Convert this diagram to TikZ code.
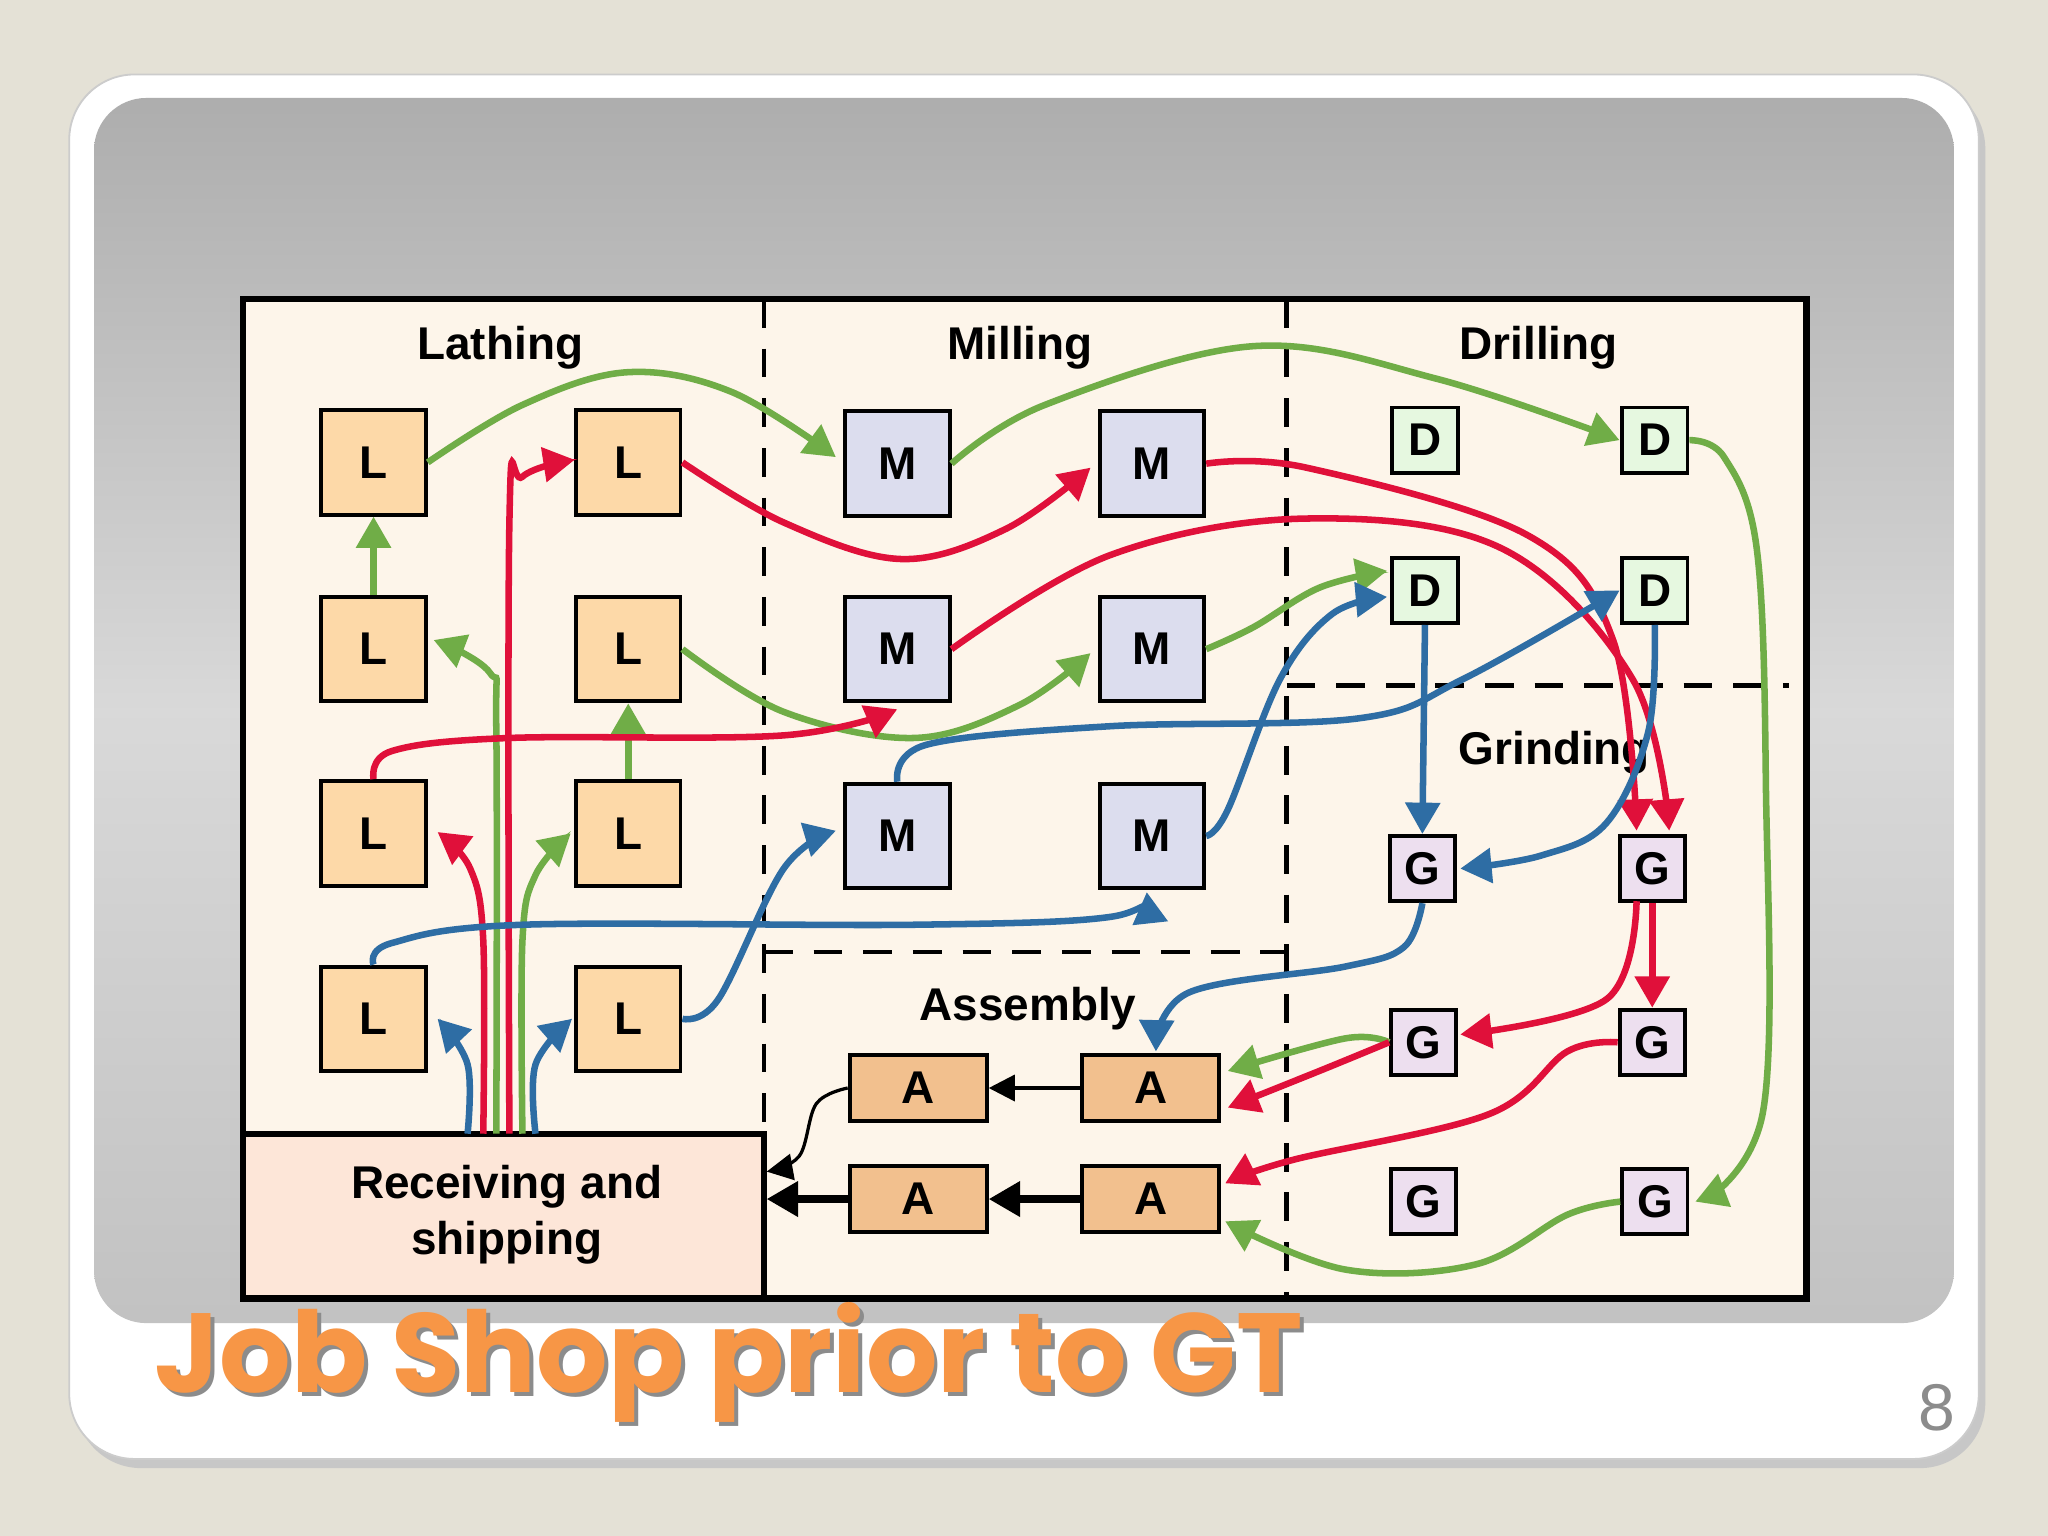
\documentclass[tikz,border=0pt]{standalone}
\usepackage{fontspec}
\setmainfont{Liberation Sans}
\newfontfamily\titlefont{Poppins}
\usetikzlibrary{arrows.meta}
\definecolor{gr}{HTML}{70AD47}
\definecolor{rd}{HTML}{E0103A}
\definecolor{bl}{HTML}{2E6DA4}
\tikzset{
 mach/.style={draw=black,line width=0.3mm,minimum width=8mm,minimum height=8mm,font=\bfseries\normalsize,inner sep=0},
 Lb/.style={mach,fill={rgb,255:red,253;green,217;blue,168}},
 Mb/.style={mach,fill={rgb,255:red,220;green,221;blue,238}},
 Db/.style={mach,minimum width=5mm,minimum height=5mm,fill={rgb,255:red,230;green,248;blue,224}},
 Gb/.style={mach,minimum width=5mm,minimum height=5mm,fill={rgb,255:red,237;green,223;blue,239}},
 Ab/.style={mach,minimum width=10.5mm,minimum height=5mm,fill={rgb,255:red,242;green,192;blue,142}},
 fl/.style={line width=0.5mm,-{Triangle[length=2.4mm,width=2.6mm]}},
 G/.style={fl,draw=gr,color=gr},
 R/.style={fl,draw=rd,color=rd},
 B/.style={fl,draw=bl,color=bl},
 dsh/.style={line width=0.35mm,dash pattern=on 2.2mm off 1.6mm},
 lab/.style={font=\bfseries\normalsize}
}
\begin{document}
\begin{tikzpicture}[x=0.1mm,y=-0.1mm]
\fill[fill={rgb,255:red,228;green,225;blue,214}] (0,0) rectangle (1568,1176);
\fill[black!22,rounded corners=5mm] (58,64) rectangle (1520,1124);
\fill[white,draw=black!20,rounded corners=5mm] (53,57) rectangle (1515,1117);
\shade[top color=black!32,bottom color=black!24,middle color=black!15,rounded corners=4mm] (72,75) rectangle (1496,1013);
% frame
\fill[fill={rgb,255:red,253;green,245;blue,234}] (186,229) rectangle (1383,994);
\fill[fill={rgb,255:red,253;green,230;blue,216},draw=black,line width=0.45mm] (186,868) rectangle (585,994);
\node[font=\bfseries\normalsize,align=center] (rec) at (388,930) {Receiving and\\shipping};
\draw[dsh] (585,229) -- (585,868);
\draw[dsh] (985,229) -- (985,994);
\draw[dsh] (585,729) -- (985,729);
\draw[dsh] (985,525) -- (1370,525);
\draw[line width=0.5mm] (186,229) rectangle (1383,994);
\node[lab] at (383,266) {Lathing};
\node[lab] at (781,266) {Milling};
\node[lab] at (1178,266) {Drilling};
\node[lab] at (1190,576) {Grinding};
\node[lab] at (787,772) {Assembly};
% machines
\node[Lb] (L1) at (286,354) {L}; \node[Lb] (L2) at (481,354) {L};
\node[Lb] (L3) at (286,497) {L}; \node[Lb] (L4) at (481,497) {L};
\node[Lb] (L5) at (286,638) {L}; \node[Lb] (L6) at (481,638) {L};
\node[Lb] (L7) at (286,780) {L}; \node[Lb] (L8) at (481,780) {L};
\node[Mb] (M1) at (687,355) {M}; \node[Mb] (M2) at (882,355) {M};
\node[Mb] (M3) at (687,497) {M}; \node[Mb] (M4) at (882,497) {M};
\node[Mb] (M5) at (687,640) {M}; \node[Mb] (M6) at (882,640) {M};
\node[Db] (D1) at (1091,337) {D}; \node[Db] (D2) at (1267,337) {D};
\node[Db] (D3) at (1091,452) {D}; \node[Db] (D4) at (1267,452) {D};
\node[Gb] (G1) at (1089,665) {G}; \node[Gb] (G2) at (1265,665) {G};
\node[Gb] (G3) at (1090,798) {G}; \node[Gb] (G4) at (1265,798) {G};
\node[Gb] (G5) at (1090,920) {G}; \node[Gb] (G6) at (1267,920) {G};
\node[Ab] (A1) at (703,833) {A}; \node[Ab] (A2) at (881,833) {A};
\node[Ab] (A3) at (703,918) {A}; \node[Ab] (A4) at (881,918) {A};
\coordinate (r1) at (358,868); \coordinate (r2) at (370,868); \coordinate (r3) at (380,868);
\coordinate (r4) at (390,868); \coordinate (r5) at (400,868); \coordinate (r6) at (410,868);
% green
\draw[G] (L3.north) -- (L1.south);
\draw[G] (L6.north) -- (L4.south);
\draw[G] plot[smooth,tension=0.6] coordinates {(L1.east) (400,310) (480,285) (560,300) (640,350)};
\draw[G] plot[smooth,tension=0.6] coordinates {(M1.east) (800,310) (960,265) (1100,290) (1240,337)};
\draw[G] plot[smooth,tension=0.6] coordinates {(D2.east) (1320,350) (1345,420) (1352,600) (1350,850) (1298,920)};
\draw[G] plot[smooth,tension=0.6] coordinates {(G6.west) (1200,930) (1130,968) (1030,972) (938,935)};
\draw[G] plot[smooth,tension=0.6] coordinates {(G3.west) (1030,795) (940,820)};
\draw[G] plot[smooth,tension=0.6] coordinates {(L4.east) (600,545) (700,565) (780,540) (835,500)};
\draw[G] plot[smooth,tension=0.6] coordinates {(M4.east) (960,480) (1010,450) (1062,437)};
\draw[G] plot[smooth,tension=0.6] coordinates {(r3) (380,560) (375,515) (332,490)};
\draw[G] plot[smooth,tension=0.6] coordinates {(r5) (400,720) (410,670) (437,638)};
% red
\draw[R] plot[smooth,tension=0.6] coordinates {(L2.east) (600,400) (690,428) (770,405) (835,358)};
\draw[R] plot[smooth,tension=0.6] coordinates {(M2.east) (1000,358) (1170,410) (1235,490) (1253,636)};
\draw[R] plot[smooth,tension=0.6] coordinates {(M3.east) (850,425) (1000,397) (1150,420) (1250,520) (1278,636)};
\draw[R] plot[smooth,tension=0.6] coordinates {(L5.north) (300,575) (390,565) (600,563) (687,543)};
\draw[R] plot[smooth,tension=0.6] coordinates {(r2) (370,720) (360,665) (335,637)};
\draw[R] plot[smooth,tension=0.6] coordinates {(r4) (390,400) (400,365) (440,352)};
\draw[R] (G2.south) -- (G4.north);
\draw[R] plot[smooth,tension=0.6] coordinates {(1253,690) (1230,765) (1118,792)};
\draw[R] plot[smooth,tension=0.6] coordinates {(G3.west) (1010,820) (940,848)};
\draw[R] plot[smooth,tension=0.6] coordinates {(G4.west) (1200,805) (1140,853) (990,888) (938,906)};
% blue
\draw[B] plot[smooth,tension=0.6] coordinates {(r1) (358,815) (335,780)};
\draw[B] plot[smooth,tension=0.6] coordinates {(r6) (410,815) (438,780)};
\draw[B] plot[smooth,tension=0.6] coordinates {(L8.east) (550,765) (600,665) (640,636)};
\draw[B] plot[smooth,tension=0.6] coordinates {(L7.north) (300,722) (400,708) (700,708) (850,702) (878,683)};
\draw[B] plot[smooth,tension=0.6] coordinates {(M6.east) (940,620) (980,520) (1020,470) (1062,457)};
\draw[B] plot[smooth,tension=0.6] coordinates {(M5.north) (710,570) (850,556) (1040,550) (1120,520) (1240,452)};
\draw[B] (D3.south) -- (G1.north);
\draw[B] plot[smooth,tension=0.6] coordinates {(D4.south) (1262,560) (1230,630) (1180,655) (1118,665)};
\draw[B] plot[smooth,tension=0.6] coordinates {(G1.south) (1075,725) (1030,740) (910,760) (885,805)};
% black
\draw[line width=0.25mm,-{Triangle[length=2mm,width=2mm]}] (A2.west) -- (A1.east);
\draw[line width=0.25mm,-{Triangle[length=2mm,width=2mm]}] plot[smooth,tension=0.6] coordinates {(A1.west) (625,845) (612,885) (587,897)};
\draw[line width=0.55mm,-{Triangle[length=2.4mm,width=2.6mm]}] (A4.west) -- (A3.east);
\draw[line width=0.55mm,-{Triangle[length=2.4mm,width=2.6mm]}] (A3.west) -- (587,918);
% title
\node[anchor=west,font=\titlefont\bfseries\fontsize{24.5}{28}\selectfont,text=black!45] at (109,1046) {Job Shop prior to GT};
\node[anchor=west,font=\titlefont\bfseries\fontsize{24.5}{28}\selectfont,text={rgb,255:red,247;green,150;blue,70}] (title) at (106,1043) {Job Shop prior to GT};
\node[font=\rmfamily\Large,text=black!45] (pg) at (1483,1078) {8};
\end{tikzpicture}
\end{document}
